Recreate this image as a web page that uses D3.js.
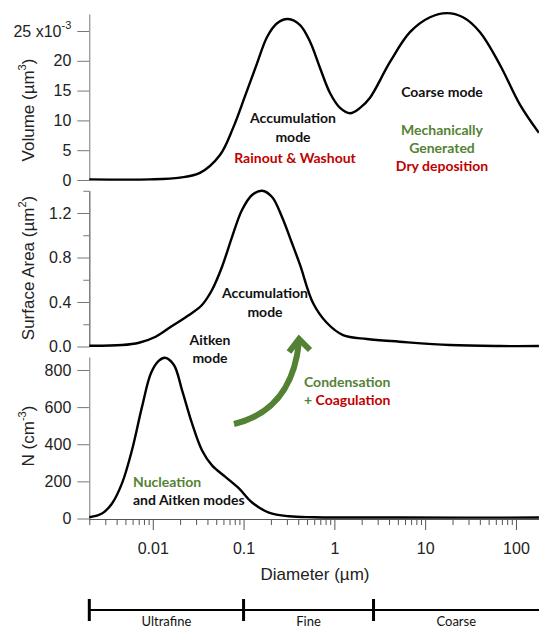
<!DOCTYPE html>
<html>
<head>
<meta charset="utf-8">
<script src="https://cdn.jsdelivr.net/npm/d3@7"></script>
<style>
  body { margin: 0; background: #fff; }
  svg { display: block; }
  .tick text { font-family: "Liberation Sans", Arial, sans-serif; }
  .note { font-family: Lato, "Open Sans", sans-serif; font-weight: bold; font-size: 14px; }
</style>
</head>
<body>
<svg id="chart" width="539" height="628"></svg>
<script>
// volume distribution (x10^-3 um^3)
var volDiam  = [0.002, 0.0093, 0.020, 0.0331, 0.055, 0.0765, 0.104, 0.141, 0.1815, 0.234, 0.309, 0.419, 0.54, 0.695, 0.895, 1.155, 1.49, 1.92, 2.47, 4.1, 6.8, 11.3, 17.4, 26.1, 40.2, 66.7, 111, 179];
var volValue = [0.1,   0.1,    0.4,   1.2,    4.2,   8.7,    14.1,  19.6,  24.0,   26.3,  27.0,  26.0,  23.2, 18.8,  14.6,  12.1,  11.2, 12.1, 13.8, 19.8, 24.8, 27.3, 28.0, 27.3, 24.8, 19.3, 12.6, 7.9];

// surface area distribution (um^2)
var areaDiam  = [0.002, 0.00458, 0.00705, 0.01076, 0.0163, 0.0251, 0.0348, 0.0449, 0.0578, 0.0746, 0.0961, 0.124, 0.16, 0.206, 0.265, 0.341, 0.419, 0.582, 0.83, 1.245, 2.28, 5.25, 18.7, 66.4, 179];
var areaValue = [0.007, 0.013,   0.034,   0.088,   0.184,  0.283,  0.373,  0.508,  0.715,  0.984,  1.227,  1.362, 1.40, 1.344, 1.164, 0.93,  0.733, 0.391, 0.211, 0.103, 0.067, 0.043, 0.013, 0.004, 0.004];

// number distribution (cm^-3)
var numDiam  = [0.002, 0.00276, 0.00356, 0.00458, 0.0059, 0.0076, 0.00957, 0.0117, 0.01365, 0.0171, 0.021, 0.027, 0.0348, 0.0449, 0.064, 0.089, 0.124, 0.19, 0.317, 0.597, 5.25, 179];
var numValue = [7,     27,      81,      189,     368,    600,    784,     850,    866,     827,    692,   514,   368,    286,    222,   162,   86,    32,   12,    7,     5,    5];

var volTicks = [0, 5, 10, 15, 20, 25];
var areaTicks = [0.0, 0.4, 0.8, 1.2];
var areaMinorTicks = [0.2, 0.6, 1.0, 1.4];
var numTicks = [0, 200, 400, 600, 800];
var xTickValues = [0.01, 0.1, 1, 10, 100];
var xTickLabels = ["0.01", "0.1", "1", "10", "100"];

var sizeClasses = ["Ultrafine", "Fine", "Coarse"];
var classEdges = [0.002, 0.1, 2.7, 200];

var green = "#548235", red = "#c00000";

var svg = d3.select("#chart");

var x = d3.scaleLog().domain([0.002, 200]).range([89.3, 543.3]);

var panels = [
  { diam: volDiam, value: volValue, domain: [0, 27.85], range: [180, 14], ticks: volTicks, minor: [], fmt: d3.format("d"),
    title: ["Volume (µm", "3", ")"], titleY: 110 },
  { diam: areaDiam, value: areaValue, domain: [0, 1.4], range: [346.5, 190.75], ticks: areaTicks, minor: areaMinorTicks, fmt: d3.format(".1f"),
    title: ["Surface Area (µm", "2", ")"], titleY: 268 },
  { diam: numDiam, value: numValue, domain: [0, 870], range: [518.5, 357], ticks: numTicks, minor: [], fmt: d3.format("d"),
    title: ["N (cm", "-3", ")"], titleY: 436 }
];

panels.forEach(function(p, i) {
  var y = d3.scaleLinear().domain(p.domain).range(p.range);

  var g = svg.append("g").attr("transform", "translate(" + x.range()[0] + ",0)");
  g.call(d3.axisLeft(y).tickValues(p.ticks).tickFormat(p.fmt).tickSize(12).tickSizeOuter(0).tickPadding(6));
  if (p.minor.length) {
    g.append("g").call(d3.axisLeft(y).tickValues(p.minor).tickFormat("").tickSize(6).tickSizeOuter(0));
  }
  g.selectAll(".domain").attr("stroke", "#777");
  g.selectAll(".tick line").attr("stroke", "#777");
  g.selectAll(".tick text").attr("font-size", 16).attr("fill", "#222");

  if (i === 0) {
    var t25 = g.selectAll(".tick text").filter(function(d) { return d === 25; });
    t25.text("25 x10").append("tspan").attr("dy", -8).attr("font-size", 11).text("-3");
  }

  // rotated axis title
  var tt = svg.append("text")
    .attr("transform", "translate(34," + p.titleY + ") rotate(-90)")
    .attr("text-anchor", "middle")
    .attr("font-family", "Liberation Sans, Arial, sans-serif")
    .attr("font-size", 17)
    .attr("fill", "#222");
  tt.append("tspan").text(p.title[0]);
  tt.append("tspan").attr("dy", -8).attr("font-size", 11).text(p.title[1]);
  tt.append("tspan").attr("dy", 8).text(p.title[2]);

  var line = d3.line()
    .x(function(d) { return x(d[0]); })
    .y(function(d) { return y(d[1]); })
    .curve(d3.curveCatmullRom.alpha(0.5));

  svg.append("path")
    .attr("d", line(d3.zip(p.diam, p.value)))
    .attr("fill", "none")
    .attr("stroke", "#000")
    .attr("stroke-width", 2.4);
});

// x axis (log)
var xg = svg.append("g").attr("transform", "translate(0,519)");
var minorX = x.ticks().filter(function(d) { return xTickValues.indexOf(d) < 0; });
xg.append("g").call(d3.axisBottom(x).tickValues(minorX).tickFormat("").tickSize(6).tickSizeOuter(0));
xg.append("g").call(d3.axisBottom(x).tickValues(xTickValues)
  .tickFormat(function(d, i) { return xTickLabels[i]; }).tickSize(11).tickSizeOuter(0).tickPadding(13));
xg.selectAll(".domain").attr("stroke", "#555");
xg.selectAll(".tick line").attr("stroke", "#555");
xg.selectAll(".tick text").attr("font-size", 16).attr("fill", "#222");

svg.append("text")
  .attr("x", 315).attr("y", 580)
  .attr("text-anchor", "middle")
  .attr("font-family", "Liberation Sans, Arial, sans-serif")
  .attr("font-size", 17).attr("fill", "#222")
  .text("Diameter (µm)");

// size class bracket
var bracket = svg.append("g");
bracket.append("line")
  .attr("x1", x(classEdges[0])).attr("x2", x(classEdges[classEdges.length - 1]))
  .attr("y1", 610).attr("y2", 610)
  .attr("stroke", "#000").attr("stroke-width", 2);
bracket.selectAll(".edge").data(classEdges.slice(0, 3)).enter().append("line")
  .attr("x1", function(d) { return x(d); }).attr("x2", function(d) { return x(d); })
  .attr("y1", 599).attr("y2", 621)
  .attr("stroke", "#000").attr("stroke-width", 3);
bracket.selectAll(".cls").data(sizeClasses).enter().append("text")
  .attr("x", function(d, i) { return (x(classEdges[i]) + Math.min(539, x(classEdges[i + 1]))) / 2; })
  .attr("y", 626)
  .attr("text-anchor", "middle")
  .attr("font-family", "Lato, 'Open Sans', sans-serif")
  .attr("font-size", 13).attr("fill", "#111")
  .text(function(d) { return d; });

// annotations
function note(txt, px, py, color, anchor) {
  return svg.append("text").attr("class", "note")
    .attr("x", px).attr("y", py)
    .attr("text-anchor", anchor || "middle")
    .attr("fill", color || "#111")
    .text(txt);
}
note("Accumulation", 293, 123);
note("mode", 293, 142);
note("Rainout & Washout", 295, 163, red);
note("Coarse mode", 442, 97);
note("Mechanically", 442, 135, green);
note("Generated", 442, 153, green);
note("Dry deposition", 442, 171, red);
note("Accumulation", 265, 298);
note("mode", 265, 317);
note("Aitken", 210, 345);
note("mode", 210, 363);
note("Condensation", 304, 387, green, "start");
var cg = note("+ ", 304, 405, green, "start");
cg.append("tspan").attr("fill", red).text("Coagulation");
note("Nucleation", 133, 487, green, "start");
note("and Aitken modes", 133, 505, "#111", "start");

// growth arrow
svg.append("path")
  .attr("d", "M234,424 Q292,410 299,342")
  .attr("fill", "none").attr("stroke", green).attr("stroke-width", 6);
svg.append("path")
  .attr("d", "M289,352 L299,339 L310,350")
  .attr("fill", "none").attr("stroke", green).attr("stroke-width", 6)
  .attr("stroke-linejoin", "miter");
</script>
</body>
</html>
